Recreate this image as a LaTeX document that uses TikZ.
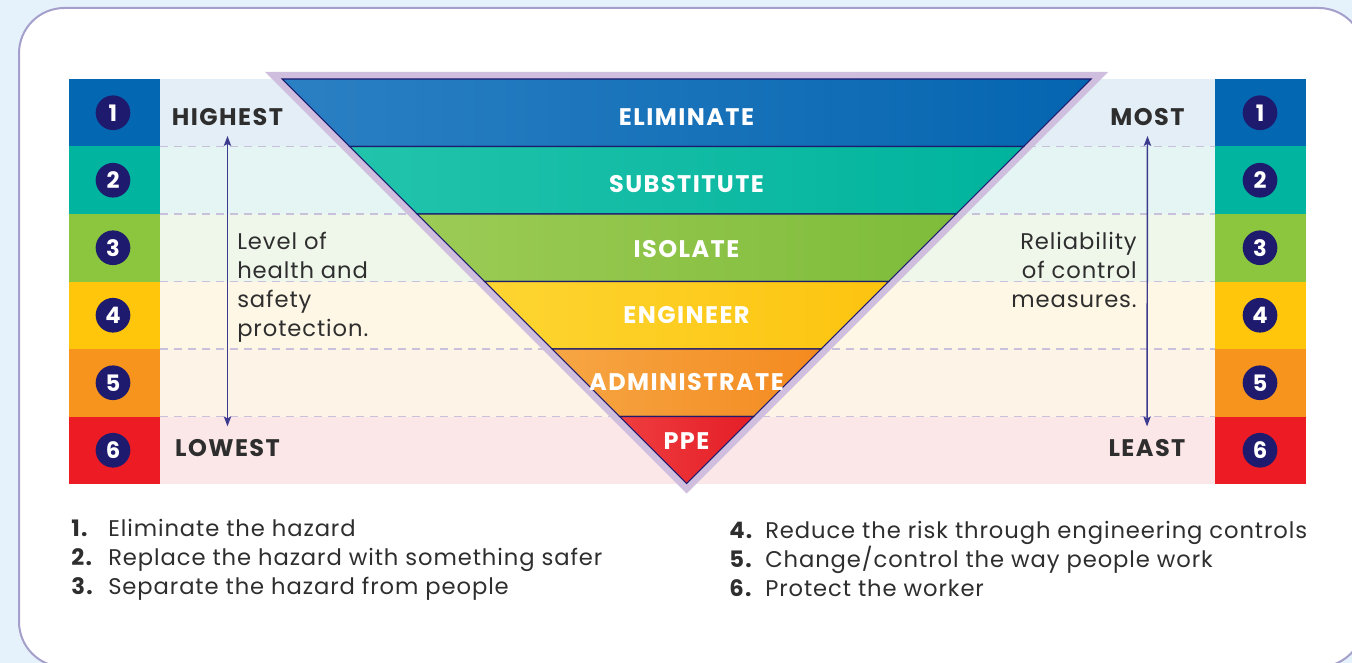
\documentclass[tikz,border=0pt]{standalone}
\usepackage{fontspec}
\setmainfont{Poppins}[LetterSpace=4,BoldFeatures={LetterSpace=6}]
\usetikzlibrary{arrows.meta,positioning}

\definecolor{sky}{HTML}{E6F2FB}
\definecolor{frame}{HTML}{A49FCB}
\definecolor{navy}{HTML}{1E1A6E}
\definecolor{ink}{HTML}{2E2E2E}
\definecolor{trackblue}{HTML}{3C3A8E}
\definecolor{lilac}{HTML}{D0BEDE}
\definecolor{dashlilac}{HTML}{C9C1DC}
\definecolor{rowA}{HTML}{0467B2}
\definecolor{rowB}{HTML}{00B49F}
\definecolor{rowC}{HTML}{8CC63F}
\definecolor{rowD}{HTML}{FFC60B}
\definecolor{rowE}{HTML}{F7941D}
\definecolor{rowF}{HTML}{ED1C24}
\definecolor{paleA}{HTML}{E3EEF6}
\definecolor{paleB}{HTML}{E5F5F3}
\definecolor{paleC}{HTML}{EFF6EA}
\definecolor{paleD}{HTML}{FEF7E5}
\definecolor{paleE}{HTML}{FDF3E7}
\definecolor{paleF}{HTML}{FCE7E8}
\definecolor{elimL}{HTML}{2B80C3}
\definecolor{elimR}{HTML}{0565B0}
\definecolor{subsL}{HTML}{22C3AB}
\definecolor{subsR}{HTML}{00B39D}
\definecolor{isolL}{HTML}{9CCB55}
\definecolor{isolR}{HTML}{7EBC3A}
\definecolor{engiL}{HTML}{FDD531}
\definecolor{engiR}{HTML}{FDC40F}
\definecolor{admiL}{HTML}{F6A644}
\definecolor{admiR}{HTML}{F48A1F}
\definecolor{ppeL}{HTML}{EF3D3F}
\definecolor{ppeR}{HTML}{E41E26}

\tikzset{
  badge/.style={circle,fill=navy,text=white,minimum size=26pt,inner sep=0pt,
    font=\bfseries\fontsize{17}{17}\selectfont},
  level/.style={inner sep=0pt,text=ink,font=\bfseries\fontsize{18}{18}\selectfont},
  rung/.style={inner sep=0pt,text=white,font=\bfseries\fontsize{18}{18}\selectfont},
  note/.style={inner sep=0pt,text=ink,font=\fontsize{17}{21.75}\selectfont},
  item/.style={inner sep=0pt,anchor=base west,text=ink,font=\fontsize{17}{17}\selectfont},
  guide/.style={draw=dashlilac,dash pattern=on 6pt off 4.5pt,line width=0.8pt},
  track/.style={<->,>={Stealth[length=7.5pt,width=5.5pt,inset=1.5pt]},draw=trackblue,
    line width=1.1pt,shorten <=7.5pt,shorten >=9.5pt},
}

\begin{document}
\begin{tikzpicture}[x=0.75pt,y=-0.75pt]
\useasboundingbox (0,0) rectangle (1352,663);
\fill[sky] (0,0) rectangle (1352,663);
\draw[frame,fill=white,line width=1.5pt,rounded corners=34pt] (19,8) rectangle (1364,667);

\foreach \i/\strong/\pale in {1/rowA/paleA,2/rowB/paleB,3/rowC/paleC,4/rowD/paleD,5/rowE/paleE,6/rowF/paleF}{
  \pgfmathsetmacro\ytop{79+(\i-1)*67.5}
  \pgfmathsetmacro\ybot{\ytop+67.5}
  \pgfmathsetmacro\ymid{\ytop+33.75}
  \fill[\pale] (160,\ytop) rectangle (1215,\ybot);
  \fill[\strong] (69,\ytop) rectangle (160,\ybot);
  \fill[\strong] (1215,\ytop) rectangle (1306,\ybot);
  \node[badge] (L\i) at (113,\ymid) {\i};
  \node[badge] (R\i) at (1260,\ymid) {\i};
}

\fill[lilac] (265,72) -- (1108,72) -- (686.5,493.5) -- cycle;
\foreach \y in {146.5,214,281.5,349,416.5}
  \draw[guide] (160,\y) -- (1215,\y);

\foreach \i/\lc/\rc in {1/elimL/elimR,2/subsL/subsR,3/isolL/isolR,4/engiL/engiR,5/admiL/admiR,6/ppeL/ppeR}{
  \pgfmathsetmacro\ytop{79+(\i-1)*67.5}
  \pgfmathsetmacro\ybot{min(\ytop+67.5,483.5)}
  \pgfmathsetmacro\xa{686.5-(483.5-\ytop)}
  \pgfmathsetmacro\xb{686.5+(483.5-\ytop)}
  \pgfmathsetmacro\xc{686.5+(483.5-\ybot)}
  \pgfmathsetmacro\xd{686.5-(483.5-\ybot)}
  \shade[left color=\lc,right color=\rc,draw=navy,line width=0.8pt]
    (\xa,\ytop) -- (\xb,\ytop) -- (\xc,\ybot) -- (\xd,\ybot) -- cycle;
}

\node[rung] (elim) at (686.5,117) {ELIMINATE};
\node[rung] (subs) at (686.5,184) {SUBSTITUTE};
\node[rung] (isol) at (686.5,249) {ISOLATE};
\node[rung] (engi) at (686.5,315) {ENGINEER};
\node[rung] (admi) at (686.5,382) {ADMINISTRATE};
\node[rung] (ppe) at (686.5,441) {PPE};

\node[level] (highest) at (227.5,117) {HIGHEST};
\node[level] (lowest) at (227.5,448) {LOWEST};
\node[level] (most) at (1147.5,117) {MOST};
\node[level] (least) at (1147,448) {LEAST};
\draw[track] (highest.south) -- (lowest.north);
\draw[track] (most.south) -- (least.north);

\node[note,anchor=north west,align=left] (health) at (237,232) {Level of\\health and\\safety\\protection.};
\node[note,anchor=north east,align=right] (trust) at (1137,232) {Reliability\\of control\\measures.};

\node[item] (s1) at (71,536) {\makebox[27.75pt][l]{\textbf{1.}}Eliminate the hazard};
\node[item] (s2) at (71,565) {\makebox[27.75pt][l]{\textbf{2.}}Replace the hazard with something safer};
\node[item] (s3) at (71,594) {\makebox[27.75pt][l]{\textbf{3.}}Separate the hazard from people};
\node[item] (s4) at (729,538) {\makebox[27pt][l]{\textbf{4.}}Reduce the risk through engineering controls};
\node[item] (s5) at (729,567) {\makebox[27pt][l]{\textbf{5.}}Change/control the way people work};
\node[item] (s6) at (729,596) {\makebox[27pt][l]{\textbf{6.}}Protect the worker};
\end{tikzpicture}
\end{document}
